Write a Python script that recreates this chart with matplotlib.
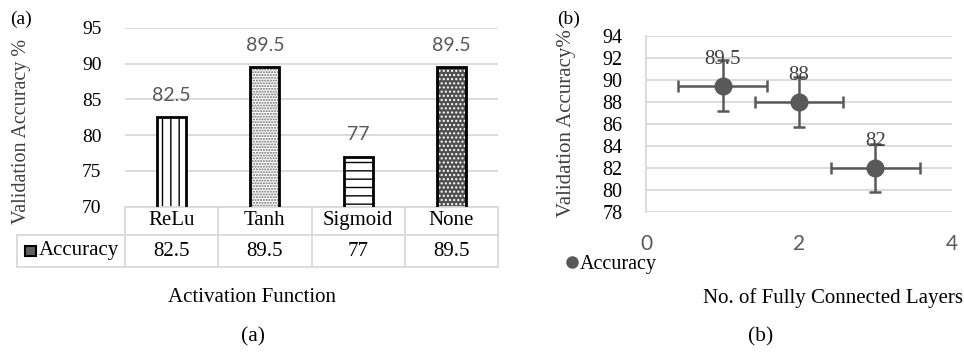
import matplotlib
matplotlib.use('Agg')
import matplotlib.pyplot as plt
import matplotlib.transforms as mtransforms
from matplotlib.lines import Line2D

W, H = 964, 354

# data
acts = ['ReLu', 'Tanh', 'Sigmoid', 'None']
acc_a = [82.5, 89.5, 77, 89.5]
hatches = ['||', '......', '--', '....']

layers = [1, 2, 3]
acc_b = [89.5, 88, 82]
xerr_b = [0.58, 0.58, 0.58]
yerr_b = [2.3, 2.3, 2.2]

serif = 'Liberation Serif'
sans = 'Lato'
grid_c = '#d9d9d9'
dark = '#595959'


def fx(x):
    return x / W


def fy(y):
    return 1 - y / H


fig = plt.figure(figsize=(W / 100, H / 100), dpi=100)

# ---------- panel (a) ----------
ax = fig.add_axes([fx(125), fy(206.5), (498 - 125) / W, (206.5 - 28) / H])
xs = list(range(len(acts)))
faces = ['white', 'white', 'white', '#505050']
hcols = ['black', '#6a6a6a', 'black', 'white']
for i in xs:
    ax.bar(xs[i], acc_a[i], width=0.31, color=faces[i], hatch=hatches[i],
           edgecolor=hcols[i], linewidth=0, zorder=2)
    ax.bar(xs[i], acc_a[i], width=0.31, fill=False, edgecolor='black',
           linewidth=2, zorder=3)
    ax.annotate(f'{acc_a[i]:g}', (xs[i], acc_a[i]), xytext=(0, 16),
                textcoords='offset points', ha='center', va='center',
                fontsize=14, family=sans, color=dark)
ax.set_xlim(-0.5, len(acts) - 0.5)
ax.set_ylim(70, 95)
ax.set_yticks([70, 75, 80, 85, 90, 95])
ax.set_xticks([])
ax.yaxis.grid(True, color=grid_c, linewidth=1.3, zorder=0)
ax.set_axisbelow(True)
for s in ax.spines.values():
    s.set_visible(False)
ax.tick_params(axis='y', length=0, pad=17, labelsize=14)
for t in ax.get_yticklabels():
    t.set_family(serif)

# data table under the bars
tr = ax.transAxes
r1 = -(235 - 206.5) / 178.5
r2 = -(267 - 206.5) / 178.5
lx = -(125 - 17) / 373
kw = dict(transform=tr, clip_on=False, color=grid_c, linewidth=1.3)
ax.plot([0, 1], [0, 0], **kw)
ax.plot([lx, 1], [r1, r1], **kw)
ax.plot([lx, 1], [r2, r2], **kw)
ax.plot([lx, lx], [r1, r2], **kw)
for k in range(len(acts) + 1):
    xk = k / len(acts)
    ax.plot([xk, xk], [0, r2], **kw)
bt = mtransforms.blended_transform_factory(ax.transData, ax.transAxes)
for i in xs:
    ax.text(xs[i], r1 / 2, acts[i], transform=bt, ha='center', va='center',
            fontsize=15, family=serif)
    ax.text(xs[i], (r1 + r2) / 2, f'{acc_a[i]:g}', transform=bt, ha='center',
            va='center', fontsize=15, family=serif)
key = plt.Rectangle((fx(25), fy(256)), 11 / W, 10 / H, transform=fig.transFigure,
                    facecolor='#606060', edgecolor='black', linewidth=1.5)
fig.patches.append(key)
fig.text(fx(79), fy(251), 'Accuracy', ha='center', va='center', fontsize=15, family=serif)

fig.text(fx(22), fy(131), 'Validation Accuracy %', rotation=90, ha='center', va='center',
         fontsize=14.5, family=serif, color='#404040')
fig.text(fx(21), fy(19), '(a)', ha='center', va='center', fontsize=14, family=serif)
fig.text(fx(252), fy(298), 'Activation Function', ha='center', va='center',
         fontsize=15, family=serif)
fig.text(fx(253), fy(337), '(a)', ha='center', va='center', fontsize=15.5, family=serif)

# ---------- panel (b) ----------
bx = fig.add_axes([fx(646), fy(212), (952 - 646) / W, (212 - 36) / H])
bx.errorbar(layers, acc_b, xerr=xerr_b, yerr=yerr_b, fmt='o', color=dark,
            ecolor=dark, elinewidth=1.8, capsize=4, capthick=1.8, markersize=12,
            zorder=3)
for x, y in zip(layers, acc_b):
    bx.annotate(f'{y:g}', (x, y), xytext=(0, 19), textcoords='offset points',
                ha='center', va='center', fontsize=15, family=serif, color='#404040')
bx.set_xlim(0, 4)
bx.set_ylim(78, 94)
bx.set_yticks(range(78, 95, 2))
bx.set_xticks([0, 2, 4])
bx.yaxis.grid(True, color=grid_c, linewidth=1.3, zorder=0)
bx.set_axisbelow(True)
for k, s in bx.spines.items():
    s.set_visible(k == 'left')
bx.spines['left'].set_color(grid_c)
bx.spines['left'].set_linewidth(1.3)
bx.tick_params(axis='y', length=0, pad=17, labelsize=14.5)
bx.tick_params(axis='x', length=0, pad=16, labelsize=15, labelcolor=dark)
for t in bx.get_yticklabels():
    t.set_family(serif)
for t in bx.get_xticklabels():
    t.set_family(sans)
handle = Line2D([], [], marker='o', linestyle='', color=dark, markersize=8)
bx.legend([handle], ['Accuracy'], loc='center', bbox_to_anchor=(fx(610), fy(264)),
          bbox_transform=fig.transFigure, frameon=False, handletextpad=0.0,
          handlelength=0.8, borderpad=0, prop={'family': serif, 'size': 14.5})

fig.text(fx(567), fy(123), 'Validation Accuracy%', rotation=90, ha='center', va='center',
         fontsize=15, family=serif, color='#404040')
fig.text(fx(569), fy(19), '(b)', ha='center', va='center', fontsize=14, family=serif)
fig.text(fx(833), fy(298), 'No. of Fully Connected Layers', ha='center', va='center',
         fontsize=15, family=serif)
fig.text(fx(761), fy(337), '(b)', ha='center', va='center', fontsize=15.5, family=serif)

fig.savefig('out.png', dpi=100)
